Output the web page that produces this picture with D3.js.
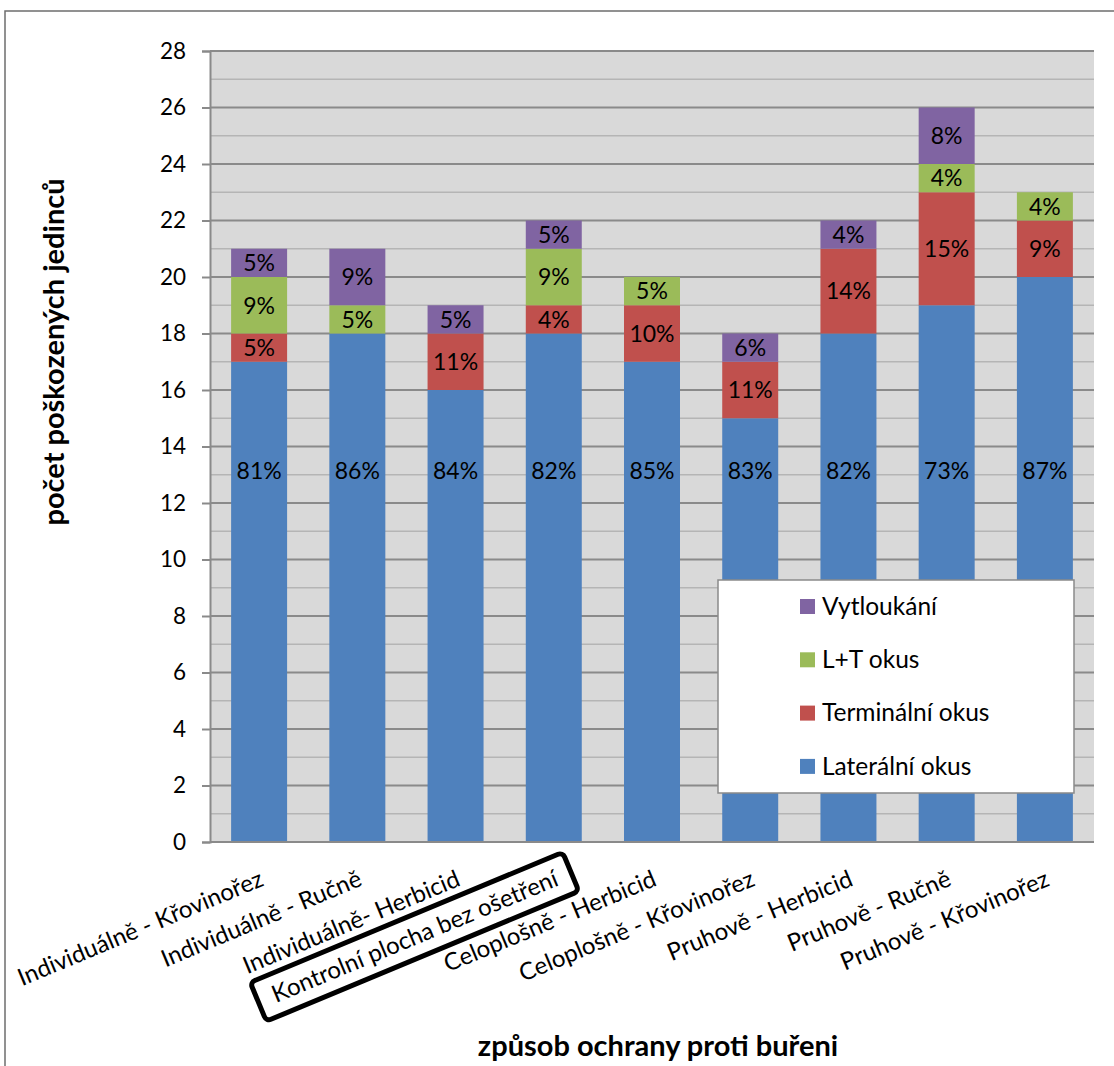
<!DOCTYPE html>
<html>
<head>
<meta charset="utf-8">
<script src="https://cdn.jsdelivr.net/npm/d3@7"></script>
<style>
  html, body { margin: 0; padding: 0; background: #fff; }
  svg { display: block; font-family: Lato, "Open Sans", sans-serif; }
</style>
</head>
<body>
<svg id="chart" width="1114" height="1066"></svg>
<script>
// Categories (ways of weed control)
const categories = [
  "Individuálně - Křovinořez",
  "Individuálně - Ručně",
  "Individuálně- Herbicid",
  "Kontrolní plocha bez ošetření",
  "Celoplošně - Herbicid",
  "Celoplošně - Křovinořez",
  "Pruhově - Herbicid",
  "Pruhově - Ručně",
  "Pruhově - Křovinořez"
];
const highlighted = "Kontrolní plocha bez ošetření";

// Counts of damaged individuals per damage type
const lateralni   = [17, 18, 16, 18, 17, 15, 18, 19, 20];
const terminalni  = [1, 0, 2, 1, 2, 2, 3, 4, 2];
const ltOkus      = [2, 1, 0, 2, 1, 0, 0, 1, 1];
const vytloukani  = [1, 2, 1, 1, 0, 1, 1, 2, 0];

// Percentage labels shown in the segments
const lateralniPct  = ["81%", "86%", "84%", "82%", "85%", "83%", "82%", "73%", "87%"];
const terminalniPct = ["5%", "", "11%", "4%", "10%", "11%", "14%", "15%", "9%"];
const ltOkusPct     = ["9%", "5%", "", "9%", "5%", "", "", "4%", "4%"];
const vytloukaniPct = ["5%", "9%", "5%", "5%", "", "6%", "4%", "8%", ""];

const seriesNames = ["Laterální okus", "Terminální okus", "L+T okus", "Vytloukání"];
const seriesColors = ["#4f81bd", "#c0504d", "#9bbb59", "#8064a2"];

const yTicks = d3.range(0, 29, 2);

const table = categories.map((c, i) => ({
  cat: c,
  "Laterální okus": lateralni[i],
  "Terminální okus": terminalni[i],
  "L+T okus": ltOkus[i],
  "Vytloukání": vytloukani[i]
}));
const labels = {
  "Laterální okus": lateralniPct,
  "Terminální okus": terminalniPct,
  "L+T okus": ltOkusPct,
  "Vytloukání": vytloukaniPct
};

const svg = d3.select("#chart");

// Outer chart frame (top and left edges)
svg.append("path")
  .attr("d", "M5,1066 V11 H1114")
  .attr("fill", "none")
  .attr("stroke", "#6e6e6e")
  .attr("stroke-width", 1.5);

const plot = { left: 210, right: 1094, top: 51, bottom: 842 };

const x = d3.scaleBand()
  .domain(categories)
  .range([plot.left, plot.right])
  .paddingInner(0.43)
  .paddingOuter(0.215);

const y = d3.scaleLinear()
  .domain([0, 28])
  .range([plot.bottom, plot.top]);

// Plot area background
svg.append("rect")
  .attr("x", plot.left).attr("y", plot.top)
  .attr("width", plot.right - plot.left)
  .attr("height", plot.bottom - plot.top)
  .attr("fill", "#d9d9d9");

// Minor gridlines (every unit)
svg.append("g").selectAll("line")
  .data(d3.range(1, 28, 2))
  .join("line")
  .attr("x1", plot.left).attr("x2", plot.right)
  .attr("y1", d => y(d)).attr("y2", d => y(d))
  .attr("stroke", "#b5b5b5").attr("stroke-width", 1.5);

// Major gridlines
svg.append("g").selectAll("line")
  .data(yTicks.filter(d => d > 0))
  .join("line")
  .attr("x1", plot.left).attr("x2", plot.right)
  .attr("y1", d => y(d)).attr("y2", d => y(d))
  .attr("stroke", "#8a8a8a").attr("stroke-width", 2);

// Stacked bars
const stack = d3.stack().keys(seriesNames);
const stacked = stack(table);
const color = d3.scaleOrdinal().domain(seriesNames).range(seriesColors);

const layers = svg.append("g").selectAll("g")
  .data(stacked)
  .join("g")
  .attr("fill", d => color(d.key));

layers.selectAll("rect")
  .data(d => d.filter(s => s[1] > s[0]))
  .join("rect")
  .attr("x", d => x(d.data.cat))
  .attr("width", x.bandwidth())
  .attr("y", d => y(d[1]))
  .attr("height", d => y(d[0]) - y(d[1]));

// Segment labels
const lateralLabelLevel = 13.15;
stacked.forEach(layer => {
  const lab = labels[layer.key];
  svg.append("g").selectAll("text")
    .data(layer.map((d, i) => ({ d, t: lab[i] })).filter(o => o.t && o.d[1] > o.d[0]))
    .join("text")
    .attr("x", o => x(o.d.data.cat) + x.bandwidth() / 2)
    .attr("y", o => layer.key === "Laterální okus" ? y(lateralLabelLevel) : y((o.d[0] + o.d[1]) / 2))
    .attr("dy", "0.36em")
    .attr("text-anchor", "middle")
    .attr("font-size", 23)
    .attr("fill", "#000")
    .text(o => o.t);
});

// Y axis
const yAxis = svg.append("g")
  .attr("transform", `translate(${plot.left},0)`)
  .call(d3.axisLeft(y).tickValues(yTicks).tickSize(8).tickPadding(16));
yAxis.select(".domain").attr("stroke", "#8a8a8a").attr("stroke-width", 2);
yAxis.selectAll(".tick line").attr("stroke", "#8a8a8a").attr("stroke-width", 2);
yAxis.selectAll(".tick text")
  .attr("font-size", 22.5)
  .attr("font-family", "Lato, sans-serif")
  .attr("fill", "#000");

// X axis line
svg.append("line")
  .attr("x1", plot.left).attr("x2", plot.right)
  .attr("y1", plot.bottom).attr("y2", plot.bottom)
  .attr("stroke", "#8a8a8a").attr("stroke-width", 2);

// Category labels, rotated
const angle = -22.6;
const catG = svg.append("g");
categories.forEach(c => {
  const g = catG.append("g")
    .attr("transform", `translate(${x(c) + x.bandwidth() / 2 + 6},${plot.bottom + 43}) rotate(${angle})`);
  const t = g.append("text")
    .attr("text-anchor", "end")
    .attr("font-size", 24)
    .attr("fill", "#000")
    .text(c);
  if (c === highlighted) {
    const b = t.node().getBBox();
    g.insert("rect", "text")
      .attr("x", b.x - 16)
      .attr("y", b.y - 5)
      .attr("width", b.width + 30)
      .attr("height", b.height + 13)
      .attr("rx", 5)
      .attr("fill", "none")
      .attr("stroke", "#000")
      .attr("stroke-width", 5);
  }
});

// Axis titles
svg.append("text")
  .attr("transform", "translate(64,352) rotate(-90)")
  .attr("text-anchor", "middle")
  .attr("font-size", 29)
  .attr("font-weight", "bold")
  .attr("fill", "#000")
  .text("počet poškozených jedinců");

svg.append("text")
  .attr("x", 658).attr("y", 1056)
  .attr("text-anchor", "middle")
  .attr("font-size", 29)
  .attr("font-weight", "bold")
  .attr("fill", "#000")
  .text("způsob ochrany proti buřeni");

// Legend
const legend = svg.append("g").attr("transform", "translate(718,580)");
legend.append("rect")
  .attr("width", 356).attr("height", 213)
  .attr("fill", "#fff")
  .attr("stroke", "#8a8a8a").attr("stroke-width", 1.5);
const legendOrder = seriesNames.slice().reverse();
legendOrder.forEach((name, i) => {
  const row = legend.append("g").attr("transform", `translate(82,${26 + i * 53.3})`);
  row.append("rect")
    .attr("x", 0).attr("y", -7)
    .attr("width", 15).attr("height", 15)
    .attr("fill", color(name));
  row.append("text")
    .attr("x", 22).attr("y", 0)
    .attr("dy", "0.36em")
    .attr("font-size", 24.5)
    .attr("fill", "#000")
    .text(name);
});
</script>
</body>
</html>
